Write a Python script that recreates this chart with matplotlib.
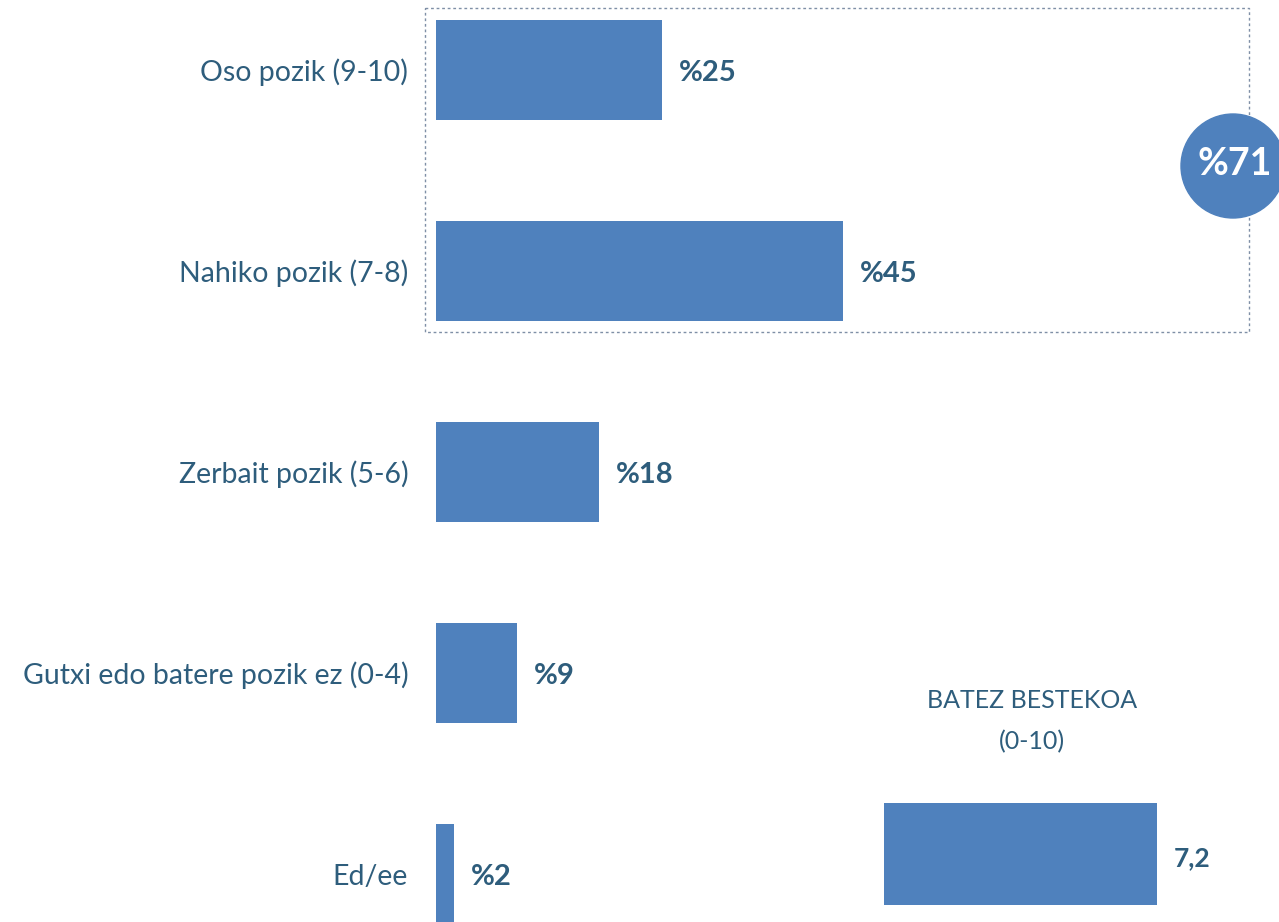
import matplotlib.pyplot as plt
from matplotlib.patches import Rectangle, Ellipse

plt.rcParams['font.family'] = ['Lato', 'DejaVu Sans']

categories = ['Oso pozik (9-10)', 'Nahiko pozik (7-8)', 'Zerbait pozik (5-6)',
              'Gutxi edo batere pozik ez (0-4)', 'Ed/ee']
values = [25, 45, 18, 9, 2]
total_pozik = 71
avg_label = 'BATEZ BESTEKOA\n(0-10)'
avg_value = 7.2

bar_color = '#4F81BD'
text_color = '#2E5D7C'

W, H = 1279, 922
fig = plt.figure(figsize=(W / 100, H / 100), dpi=100)

# main bars, px per % ~ 9.05
ax = fig.add_axes([436 / W, 0, (W - 436) / W, 1])
ypos = list(range(len(categories)))
ax.barh(ypos, values, height=0.5, color=bar_color)
ax.set_xlim(0, (W - 436) / 9.05)
ax.set_ylim((H - 70) / 201, -70 / 201)
ax.set_yticks(ypos)
ax.set_yticklabels(categories, fontsize=20.5, color=text_color)
ax.tick_params(axis='y', length=0, pad=20)
ax.set_xticks([])
for s in ax.spines.values():
    s.set_visible(False)

for y, v in zip(ypos, values):
    ax.annotate('%' + str(v), (v, y), xytext=(12, -2), textcoords='offset points',
                va='center', ha='left', fontsize=21, fontweight='bold', color=text_color)

# dotted box around the first two bars
box = Rectangle(((425 - 436) / 9.05, -62 / 201), (1249 - 425) / 9.05, 324 / 201,
                fill=False, edgecolor='#7F8FA6', linestyle=(0, (2, 2)), linewidth=1,
                clip_on=False)
ax.add_patch(box)

# circle with the sum
circ = Ellipse((1233 / W, 1 - 166 / H), 104 / W, 104 / H, transform=fig.transFigure,
               color=bar_color, zorder=5)
fig.patches.append(circ)
fig.text(1235 / W, 1 - 164 / H, '%' + str(total_pozik), ha='center', va='center',
         fontsize=27, fontweight='bold', color='white', zorder=6)

# average bar
ax2 = fig.add_axes([884 / W, (H - 905) / H, 379 / W, 102 / H])
ax2.barh([0], [avg_value], height=1, color=bar_color)
ax2.set_xlim(0, 10)
ax2.set_ylim(-0.5, 0.5)
ax2.axis('off')
ax2.annotate(str(avg_value).replace('.', ','), (avg_value, 0), xytext=(12, -3),
             textcoords='offset points', va='center', ha='left', fontsize=19,
             fontweight='bold', color=text_color)
fig.text(1032 / W, 1 - 721 / H, avg_label, ha='center', va='center', fontsize=18,
         color=text_color, linespacing=1.9)

fig.savefig('out.png', dpi=100)
